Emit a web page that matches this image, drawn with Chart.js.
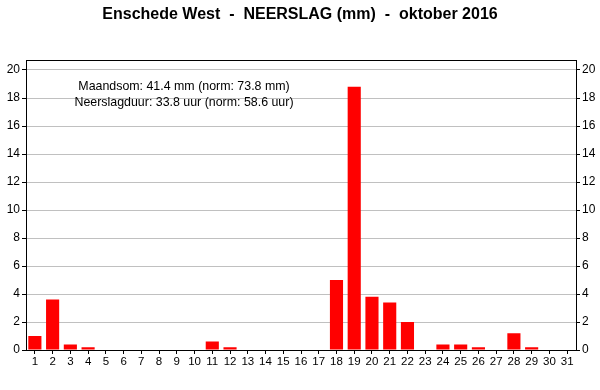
<!DOCTYPE html>
<html>
<head>
<meta charset="utf-8">
<script src="https://cdn.jsdelivr.net/npm/chart.js@4.4.0/dist/chart.umd.min.js"></script>
<style>
  body { margin: 0; background: #fff; }
  #wrap { width: 600px; height: 390px; }
</style>
</head>
<body>
<div id="wrap"><canvas id="chart1"></canvas></div>
<script>
const dagen = ['1','2','3','4','5','6','7','8','9','10','11','12','13','14','15','16',
  '17','18','19','20','21','22','23','24','25','26','27','28','29','30','31'];
const neerslag = [1.0, 3.6, 0.4, 0.2, 0, 0, 0, 0, 0, 0, 0.6, 0.2, 0, 0, 0, 0,
  0, 5.0, 18.8, 3.8, 3.4, 2.0, 0, 0.4, 0.4, 0.2, 0, 1.2, 0.2, 0, 0];
const yTicks = [0, 2, 4, 6, 8, 10, 12, 14, 16, 18, 20];
const titel = 'Enschede West  -  NEERSLAG (mm)  -  oktober 2016';
const infoRegels = ['Maandsom: 41.4 mm (norm: 73.8 mm)', 'Neerslagduur: 33.8 uur (norm: 58.6 uur)'];

const font = 'Liberation Sans, Arial, sans-serif';

const kader = {
  id: 'kader',
  afterDraw(chart) {
    const { ctx, chartArea: a } = chart;
    ctx.save();
    ctx.strokeStyle = '#000';
    ctx.lineWidth = 1;
    ctx.strokeRect(Math.round(a.left) + 0.5, Math.round(a.top) + 0.5,
      Math.round(a.right - a.left), Math.round(a.bottom - a.top));
    ctx.fillStyle = '#000';
    ctx.font = '12.4px ' + font;
    ctx.textAlign = 'center';
    ctx.textBaseline = 'middle';
    const x = a.left + 158;
    infoRegels.forEach((r, i) => ctx.fillText(r, x, a.top + 26.5 + i * 15.5));
    ctx.restore();
  }
};

function vasteTicks(scale) {
  scale.ticks = yTicks.map(v => ({ value: v }));
}

const yAs = (pos, breedte) => ({
  position: pos,
  min: 0,
  max: 20.7,
  afterBuildTicks: vasteTicks,
  afterFit(scale) { scale.width = breedte; },
  grid: {
    display: true,
    drawOnChartArea: pos === 'left',
    color: '#c0c0c0',
    tickColor: '#000',
    tickLength: 4
  },
  border: { display: false },
  ticks: { color: '#000', font: { family: font, size: 12 }, padding: 2 }
});

new Chart(document.getElementById('chart1').getContext('2d'), {
  type: 'bar',
  data: {
    labels: dagen,
    datasets: [{
      data: neerslag,
      backgroundColor: '#ff0000',
      borderWidth: 0,
      barPercentage: 0.74,
      categoryPercentage: 1
    }]
  },
  options: {
    responsive: true,
    maintainAspectRatio: false,
    animation: false,
    layout: { padding: 0 },
    plugins: {
      legend: { display: false },
      tooltip: { enabled: false },
      title: {
        display: true,
        text: titel,
        color: '#000',
        font: { family: font, size: 16, weight: 'bold', lineHeight: 1.2 },
        padding: { top: 5, bottom: 36 }
      }
    },
    scales: {
      x: {
        afterFit(scale) { scale.height = 40; },
        grid: {
          display: true,
          offset: false,
          drawOnChartArea: false,
          tickColor: '#000',
          tickLength: 4
        },
        border: { display: false },
        ticks: { color: '#000', font: { family: font, size: 11.5 }, padding: 1, maxRotation: 0, autoSkip: false }
      },
      y: yAs('left', 26),
      y2: yAs('right', 24)
    }
  },
  plugins: [kader]
});
</script>
</body>
</html>
